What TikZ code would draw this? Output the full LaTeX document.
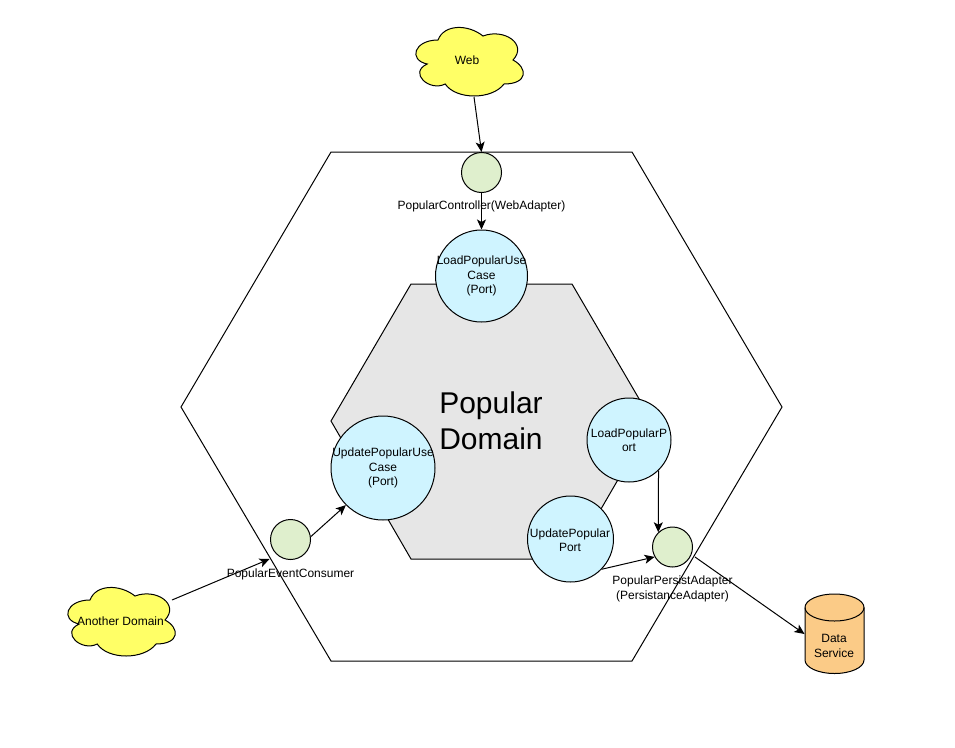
\documentclass[tikz,border=0pt]{standalone}
\usepackage{fontspec}
\setmainfont{Liberation Sans}
\usetikzlibrary{arrows.meta}
\definecolor{cloudfill}{HTML}{FFFF66}
\definecolor{adapterfill}{HTML}{DFEFCD}
\definecolor{portfill}{HTML}{CFF4FF}
\definecolor{domainfill}{HTML}{E6E6E6}
\definecolor{dbfill}{HTML}{FBCB87}
\tikzset{
  hexline/.style={draw=black,line width=1pt,line join=miter},
  adapter/.style={circle,draw=black,line width=1pt,fill=adapterfill,minimum size=40pt,inner sep=0pt},
  port/.style={circle,draw=black,line width=1pt,fill=portfill,inner sep=0pt},
  conn/.style={draw=black,line width=1pt,-{Stealth[length=10pt,width=9pt,inset=2.5pt]}},
  txt/.style={align=center,inner sep=0pt,font=\fontsize{12}{14.4}\selectfont},
  ghost/.style={rectangle,inner sep=0pt,outer sep=0pt},
  cloudline/.style={draw=black,line width=1pt,fill=cloudfill},
}
\newcommand{\cloudpath}[2]{%
  \begin{scope}[shift={(#1,#2)},x=120pt,y=-80pt]
  \path[cloudline] (0.25,0.25) .. controls (0.05,0.25) and (0,0.5) .. (0.16,0.55)
    .. controls (0,0.66) and (0.18,0.9) .. (0.31,0.8)
    .. controls (0.4,1) and (0.7,1) .. (0.8,0.8)
    .. controls (1,0.8) and (1,0.6) .. (0.875,0.5)
    .. controls (1,0.3) and (0.8,0.1) .. (0.625,0.2)
    .. controls (0.5,0.05) and (0.3,0.05) .. (0.25,0.25) -- cycle;
  \end{scope}}
\begin{document}
\begin{tikzpicture}[x=1pt,y=-1pt]
\useasboundingbox (0,0) rectangle (955,747);
% hexagons
\path[hexline] (331,152) -- (632,152) -- (782,407) -- (632,661) -- (331,661) -- (181,407) -- cycle;
\path[hexline,fill=domainfill] (411,284) -- (572,284) -- (652,421) -- (572,559) -- (411,559) -- (331,421) -- cycle;
\node[txt,font=\fontsize{30}{36}\selectfont] (domain) at (491,421) {Popular\\Domain};
% clouds
\cloudpath{408}{20}
\cloudpath{60}{580}
\node[txt] (web) at (467,60) {Web};
\node[txt] (another) at (120.5,621) {Another Domain};
\coordinate (webout) at (474,97);
\coordinate (anotherout) at (172,600);
\coordinate (eventin) at (269.5,559);
% cylinder
\path[draw=black,line width=1pt,fill=dbfill] (805,607.5) arc[start angle=180,end angle=0,x radius=29.5,y radius=-13.5]
  -- (864,660) arc[start angle=0,end angle=-180,x radius=29.5,y radius=-13.5] -- cycle;
\path[draw=black,line width=1pt] (805,607.5) arc[start angle=180,end angle=360,x radius=29.5,y radius=-13.5];
\node[ghost,minimum width=60pt,minimum height=80pt] (dbox) at (834.5,634) {};
% circles
\node[adapter] (ctrl) at (481.5,172.5) {};
\node[port,minimum size=92pt] (loaduse) at (481.5,276) {};
\node[port,minimum size=104pt] (updateuse) at (383,468) {};
\node[port,minimum size=84pt] (loadport) at (629,440) {};
\node[port,minimum size=86pt] (updateport) at (570.5,539) {};
\node[adapter] (event) at (290.5,539.5) {};
\node[adapter] (persist) at (672.5,547) {};
\coordinate (persistout) at (695,557);
% connectors
\draw[conn] (webout) -- (ctrl.north);
\draw[conn] (ctrl.south) -- (loaduse.north);
\draw[conn] (event.8) -- (updateuse.225);
\draw[conn] (anotherout) -- (eventin);
\draw[conn] (loadport.-46) -- (persist.134);
\draw[conn] (updateport.-44) -- (persist.209);
\draw[conn] (persistout) -- (dbox.west);
% labels
\node[txt] (ctrlt) at (481.5,206) {PopularController(WebAdapter)};
\node[txt] (loadt) at (481.5,276) {LoadPopularUse\\Case\\(Port)};
\node[txt] (updatet) at (383,468) {UpdatePopularUse\\Case\\(Port)};
\node[txt] (loadportt) at (629,440) {LoadPopularP\\ort};
\node[txt] (updateportt) at (570,540) {UpdatePopular\\Port};
\node[txt] (eventt) at (290.5,574) {PopularEventConsumer};
\node[txt] (persistt) at (672.5,589) {PopularPersistAdapter\\(PersistanceAdapter)};
\node[txt] (dbt) at (834,646) {Data\\Service};
\end{tikzpicture}
\end{document}
